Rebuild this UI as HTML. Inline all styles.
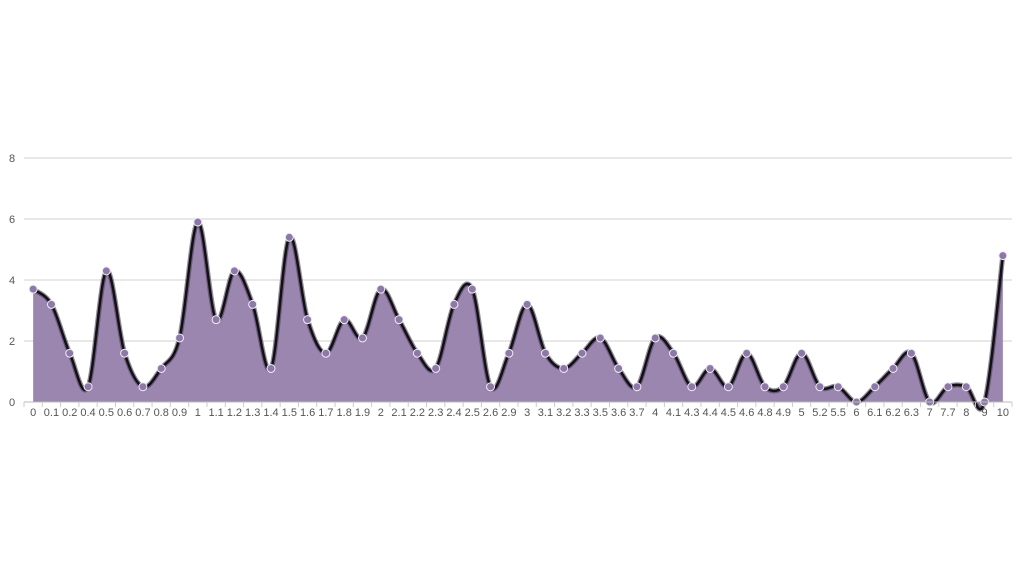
<!DOCTYPE html>
<html><head><meta charset="utf-8"><style>
body{margin:0;background:#fff;font-family:"Liberation Sans",sans-serif}
svg text{font-family:"Liberation Sans",sans-serif;font-size:11px;fill:#555}
</style></head><body>
<svg id="chart" width="1024" height="576" xmlns="http://www.w3.org/2000/svg"></svg>
<script>
const categories=["0","0.1","0.2","0.4","0.5","0.6","0.7","0.8","0.9","1","1.1","1.2","1.3","1.4","1.5","1.6","1.7","1.8","1.9","2","2.1","2.2","2.3","2.4","2.5","2.6","2.9","3","3.1","3.2","3.3","3.5","3.6","3.7","4","4.1","4.3","4.4","4.5","4.6","4.8","4.9","5","5.2","5.5","6","6.1","6.2","6.3","7","7.7","8","9","10"];
const values=[3.7,3.2,1.6,0.5,4.3,1.6,0.5,1.1,2.1,5.9,2.7,4.3,3.2,1.1,5.4,2.7,1.6,2.7,2.1,3.7,2.7,1.6,1.1,3.2,3.7,0.5,1.6,3.2,1.6,1.1,1.6,2.1,1.1,0.5,2.1,1.6,0.5,1.1,0.5,1.6,0.5,0.5,1.6,0.5,0.5,0,0.5,1.1,1.6,0,0.5,0.5,0,4.8];
const yTicks=[0,2,4,6,8];
const svg=document.getElementById('chart');
const NS='http://www.w3.org/2000/svg';
const L=24,R=1012,Y0=402,Y8=158;
const bw=(R-L)/categories.length;
const x=i=>L+bw*(i+0.5);
const y=v=>Y0-(v/8)*(Y0-Y8);
function mk(t,a,p){const e=document.createElementNS(NS,t);for(const k in a)e.setAttribute(k,a[k]);(p||svg).appendChild(e);return e;}
yTicks.forEach(t=>{
  const g=mk('line',{x1:L,x2:R,y1:y(t),y2:y(t),stroke:t===0?'#bbb':'#d0d0d0','stroke-width':1});
  
  
  const tx=mk('text',{x:12,y:y(t)+4,'text-anchor':'middle'});tx.textContent=t;
  
  
});
const pts=values.map((v,i)=>[x(i),y(v)]);
let d='M'+pts[0][0]+','+pts[0][1];
for(let i=0;i<pts.length-1;i++){
  const p0=pts[Math.max(0,i-1)],p1=pts[i],p2=pts[i+1],p3=pts[Math.min(pts.length-1,i+2)];
  const c1=[p1[0]+(p2[0]-p0[0])/6,p1[1]+(p2[1]-p0[1])/6];
  const c2=[p2[0]-(p3[0]-p1[0])/6,p2[1]-(p3[1]-p1[1])/6];
  d+=' C'+c1+' '+c2+' '+p2;
}
const area=mk('path',{d:d+' L'+pts[pts.length-1][0]+','+Y0+' L'+pts[0][0]+','+Y0+' Z',fill:'#9b86b0'});


const halo=mk('path',{d:d,fill:'none',stroke:'#4a3a5c','stroke-width':5,'stroke-opacity':0.6});


const line=mk('path',{d:d,fill:'none',stroke:'#111','stroke-width':2.5});


pts.forEach((p,i)=>{
  const c=mk('circle',{cx:p[0],cy:p[1],r:4,fill:'#8e78aa',stroke:'#eee','stroke-width':1});
  
  
});
mk('line',{x1:L,x2:R,y1:Y0,y2:Y0,stroke:'#bbb'});
categories.forEach((c,i)=>{
  mk('line',{x1:L+bw*i,x2:L+bw*i,y1:Y0,y2:Y0+5,stroke:'#ccc'});
  const t=mk('text',{x:x(i),y:416,'text-anchor':'middle'});t.textContent=c;
  
  
});
mk('line',{x1:R,x2:R,y1:Y0,y2:Y0+5,stroke:'#ccc'});
</script>
</body></html>
